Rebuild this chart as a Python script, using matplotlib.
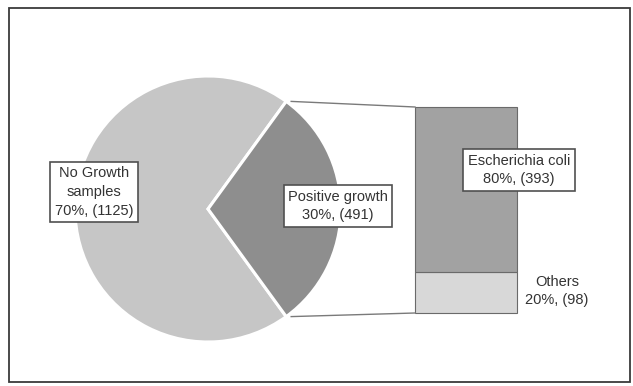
import numpy as np
import matplotlib.pyplot as plt
from matplotlib.patches import Rectangle

# data
pie_labels = ['No Growth\nsamples', 'Positive growth']
pie_counts = [1125, 491]
pie_pcts = [70, 30]
bar_labels = ['Others', 'Escherichia coli']
bar_counts = [98, 393]
bar_pcts = [20, 80]

W, H = 633, 386
fig = plt.figure(figsize=(W / 100, H / 100), dpi=100)
ax = fig.add_axes([0, 0, 1, 1])
ax.set_axis_off()

font = ['Liberation Sans Narrow', 'Liberation Sans', 'DejaVu Sans']

# layout in pixel units (y measured from the top of the image)
cx, cy, r = 208, 209, 133
explode_px = 5
bar_x0, bar_x1 = 415, 517
bar_top, bar_bot = 107, 313

def py(y):
    return H - y

pie_colors = ['#c6c6c6', '#8e8e8e']
bar_colors = ['#d8d8d8', '#a2a2a2']

half = 360 * pie_pcts[1] / 100 / 2
wedges, _ = ax.pie(pie_pcts, colors=pie_colors, startangle=half,
                   center=(cx, py(cy)), radius=r,
                   explode=[0, explode_px / r],
                   wedgeprops=dict(edgecolor='white', linewidth=2.2))

# stacked bar for the breakdown of positive growth
bar_h = bar_bot - bar_top
bottom = py(bar_bot)
for lab, pct, col in zip(bar_labels, bar_pcts, bar_colors):
    ax.bar((bar_x0 + bar_x1) / 2, bar_h * pct / 100, width=bar_x1 - bar_x0,
           bottom=bottom, color=col, edgecolor='#6a6a6a', linewidth=0.8)
    bottom += bar_h * pct / 100

# connector lines from the exploded slice to the bar
ang = np.deg2rad(half)
ex = cx + explode_px
px_top = (ex + r * np.cos(ang), py(cy) + r * np.sin(ang))
px_bot = (ex + r * np.cos(ang), py(cy) - r * np.sin(ang))
ax.plot([px_top[0], bar_x0], [px_top[1], py(bar_top)], color='#7a7a7a', lw=1)
ax.plot([px_bot[0], bar_x0], [px_bot[1], py(bar_bot)], color='#7a7a7a', lw=1)

box = dict(boxstyle='square,pad=0.3', facecolor='white', edgecolor='#505050', linewidth=1.2)
txt = dict(ha='center', va='center', fontsize=10.5, family=font, color='#333333', linespacing=1.45)

ax.text(94, py(192), f'{pie_labels[0]}\n{pie_pcts[0]}%, ({pie_counts[0]})', bbox=box, **txt)
ax.text(338, py(206), f'{pie_labels[1]}\n{pie_pcts[1]}%, ({pie_counts[1]})', bbox=box, **txt)
ax.text(519, py(170), f'{bar_labels[1]}\n{bar_pcts[1]}%, ({bar_counts[1]})', bbox=box, **txt)
ax.text(557, py(291), f'{bar_labels[0]}\n{bar_pcts[0]}%, ({bar_counts[0]})', **txt)

# chart border
ax.add_patch(Rectangle((9, py(382)), 621, 374, fill=False, edgecolor='#3a3a3a', linewidth=1.3))

ax.set_xlim(0, W)
ax.set_ylim(0, H)
ax.set_aspect('auto')

fig.savefig('out.png', dpi=100)
